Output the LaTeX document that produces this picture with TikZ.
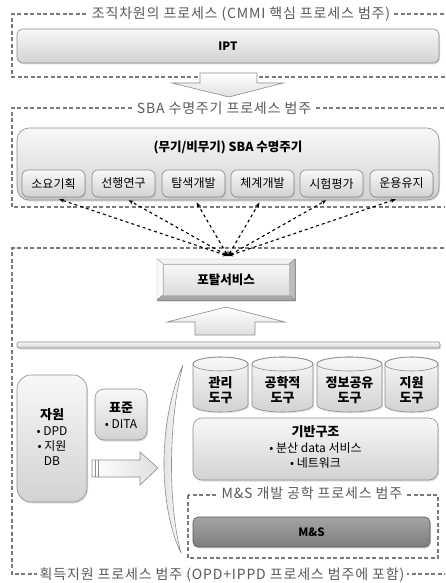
\documentclass[tikz,border=0pt]{standalone}
\usepackage{fontspec}
\setmainfont{Noto Sans CJK KR}
\newfontfamily\lblfont[LetterSpace=6]{Noto Sans CJK KR}
\usetikzlibrary{arrows.meta,shadows,calc}
\definecolor{framegray}{HTML}{7A7A7A}
\definecolor{labgray}{HTML}{5A5A5A}
\definecolor{boxborder}{HTML}{8C8C8C}
\definecolor{boxtop}{HTML}{F8F8F8}
\definecolor{boxbot}{HTML}{D2D2D2}
\definecolor{mstop}{HTML}{A4A4A4}
\definecolor{msbot}{HTML}{7E7E7E}
\begin{document}
\begin{tikzpicture}[x=1pt,y=-1pt,
  frame/.style={draw=framegray,dash pattern=on 4pt off 2.5pt,line width=1.1pt},
  flabel/.style={fill=white,inner xsep=3pt,inner ysep=1pt,text=labgray,font=\lblfont\fontsize{14}{16}\selectfont},
  gbox/.style={draw=boxborder,line width=0.6pt,top color=boxtop,bottom color=boxbot,rounded corners=6pt,
    drop shadow={opacity=0.25,shadow xshift=1pt,shadow yshift=-1.5pt}},
  subbox/.style={gbox,minimum width=63pt,minimum height=27pt,inner sep=0pt,font=\fontsize{12}{14}\selectfont},
  blockarrow/.style={draw=boxborder,line width=0.6pt,top color=white,bottom color=boxbot!70},
  hblockarrow/.style={draw=boxborder,line width=0.6pt,left color=white,right color=boxbot!70},
  cyl/.style={draw=boxborder,line width=0.6pt,top color=boxtop,bottom color=boxbot},
  lnk/.style={dashed,line width=1.1pt,black,{Stealth[length=5pt,width=4pt]}-{Stealth[length=5pt,width=4pt]}},
  body/.style={font=\fontsize{12}{15}\selectfont,align=center,inner sep=0pt}
]
\useasboundingbox (0,0) rectangle (445,583);
\fill[white] (0,0) rectangle (445,583);
\begin{scope}
\clip (0,0) rectangle (445,583);
% frames
\draw[frame] (450,14) -- (12,14) -- (12,77) -- (450,77);
\draw[frame] (450,108) -- (12,108) -- (12,207) -- (450,207);
\draw[frame] (450,248) -- (12,248) -- (12,574) -- (450,574);
\end{scope}
\node[flabel] (f1) at (241,14) {조직차원의 프로세스 (CMMI 핵심 프로세스 범주)};
\node[flabel] (f2) at (224,108) {SBA 수명주기 프로세스 범주};
\node[flabel] (f3) at (222,575) {획득지원 프로세스 범주 (OPD+IPPD 프로세스 범주에 포함)};

% IPT
\node[gbox,minimum width=422pt,minimum height=34pt,font=\bfseries\fontsize{11.5}{13}\selectfont] (ipt) at (228,46) {IPT};

% down arrow
\path[blockarrow] (200,73) -- (257,73) -- (257,83) -- (283,83) -- (229,97) -- (172,83) -- (200,83) -- cycle;

% SBA
\node[gbox,rounded corners=12pt,minimum width=422pt,minimum height=72pt] (sba) at (228,164) {};
\node[font=\bfseries\fontsize{12.5}{14}\selectfont] (sbat) at (228,147) {(무기/비무기) SBA 수명주기};
\node[subbox] (b1) at (53.5,183.5) {소요기획};
\node[subbox] (b2) at (123.5,183.5) {선행연구};
\node[subbox] (b3) at (193.5,183.5) {탐색개발};
\node[subbox] (b4) at (262.5,183.5) {체계개발};
\node[subbox] (b5) at (331.5,183.5) {시험평가};
\node[subbox] (b6) at (401.5,183.5) {운용유지};

% portal
\node[draw=boxborder,line width=0.6pt,fill=boxbot!80,minimum width=138pt,minimum height=41pt,inner sep=0pt,
  drop shadow={opacity=0.25,shadow xshift=1pt,shadow yshift=-1.5pt}] (portal) at (226,279.5) {};
\draw[boxborder!70,line width=0.4pt,fill=white!70!boxbot] (157,259) -- (295,259) -- (289,264) -- (163,264) -- cycle;
\draw[boxborder!70,line width=0.4pt,fill=white!90!boxbot] (157,259) -- (163,264) -- (163,295) -- (157,300) -- cycle;
\draw[boxborder,line width=0.4pt,fill=boxbot!90!black] (295,259) -- (289,264) -- (289,295) -- (295,300) -- cycle;
\draw[boxborder,line width=0.4pt,fill=boxbot!80!black] (157,300) -- (163,295) -- (289,295) -- (295,300) -- cycle;
\node[draw=boxborder!60,line width=0.3pt,top color=boxtop,bottom color=boxbot!80,minimum width=126pt,minimum height=31pt,inner sep=0pt,
  font=\bfseries\fontsize{12.5}{14}\selectfont] (portalin) at (226,279.5) {포탈서비스};

\coordinate (hub) at (228,256);
\foreach \b in {b1,b2,b3,b4,b5,b6}
  \draw[lnk,shorten >=6pt] (hub) -- (\b.south);

% up arrow
\path[blockarrow] (195,335) -- (195,322) -- (167,322) -- (226,307) -- (285,322) -- (255,322) -- (255,335) -- cycle;

% bar
\node[gbox,rounded corners=2pt,minimum width=423pt,minimum height=6pt,inner sep=0pt] (bar) at (228.5,345) {};

% left boxes
\node[gbox,rounded corners=14pt,minimum width=70pt,minimum height=127pt] (jw) at (52,438.5) {};
\node[body] (jwt) at (52,437) {\textbf{\fontsize{13}{15}\selectfont 자원}\\[1pt]• DPD\\• 지원\\DB};
\node[gbox,rounded corners=9pt,minimum width=52pt,minimum height=51pt] (pj) at (121,414.5) {};
\node[body] (pjt) at (121,415) {\textbf{\fontsize{13}{15}\selectfont 표준}\\[1pt]• DITA};

% right arrow
\path[hblockarrow] (92,460) -- (140,460) -- (140,452) -- (158,468) -- (140,485) -- (140,477) -- (92,477) -- cycle;
\draw[boxborder,line width=0.5pt] (95,460) -- (95,477) (98,460) -- (98,477);

% crescent
\path[draw=boxborder,line width=0.6pt,left color=boxbot!80,right color=white]
  (183,365) .. controls (158,420) and (158,505) .. (181,553)
  .. controls (168,505) and (168,420) .. (183,365) -- cycle;

% cylinders
\foreach \xa/\xb/\nm/\txt in {193/248/c1/{관리\\도구},252/313/c2/{공학적\\도구},317/382/c3/{정보공유\\도구},385/438/c4/{지원\\도구}}{
  \pgfmathsetmacro{\rx}{(\xb-\xa)/2}
  \pgfmathsetmacro{\cx}{(\xb+\xa)/2}
  \path[cyl,drop shadow={opacity=0.2,shadow xshift=1pt,shadow yshift=-1.5pt}] (\xa,364) -- (\xa,405) arc[start angle=180,end angle=0,x radius=\rx,y radius=7] -- (\xb,364) arc[start angle=0,end angle=-180,x radius=\rx,y radius=7] -- cycle;
  \draw[boxborder,line width=0.6pt] (\cx,364) ellipse[x radius=\rx,y radius=7];
  \node[body,font=\bfseries\fontsize{13}{14.5}\selectfont] (\nm) at (\cx,390) {\txt};
}

% infrastructure
\node[gbox,rounded corners=9pt,minimum width=245pt,minimum height=62pt] (infra) at (315.5,449) {};
\node[body] (infrat) at (315.5,447) {\textbf{\fontsize{13}{15}\selectfont 기반구조}\\[1pt]• 분산 data 서비스\\• 네트워크};

% M&S frame
\draw[frame] (188,495) rectangle (438,558);
\node[flabel] (f4) at (312,493) {M\&S 개발 공학 프로세스 범주};
\node[gbox,draw=msbot!70!black,top color=mstop,bottom color=msbot,rounded corners=5pt,minimum width=237pt,minimum height=30pt,
  font=\bfseries\fontsize{11.5}{13}\selectfont] (ms) at (311.5,532) {M\&S};
\end{tikzpicture}
\end{document}
